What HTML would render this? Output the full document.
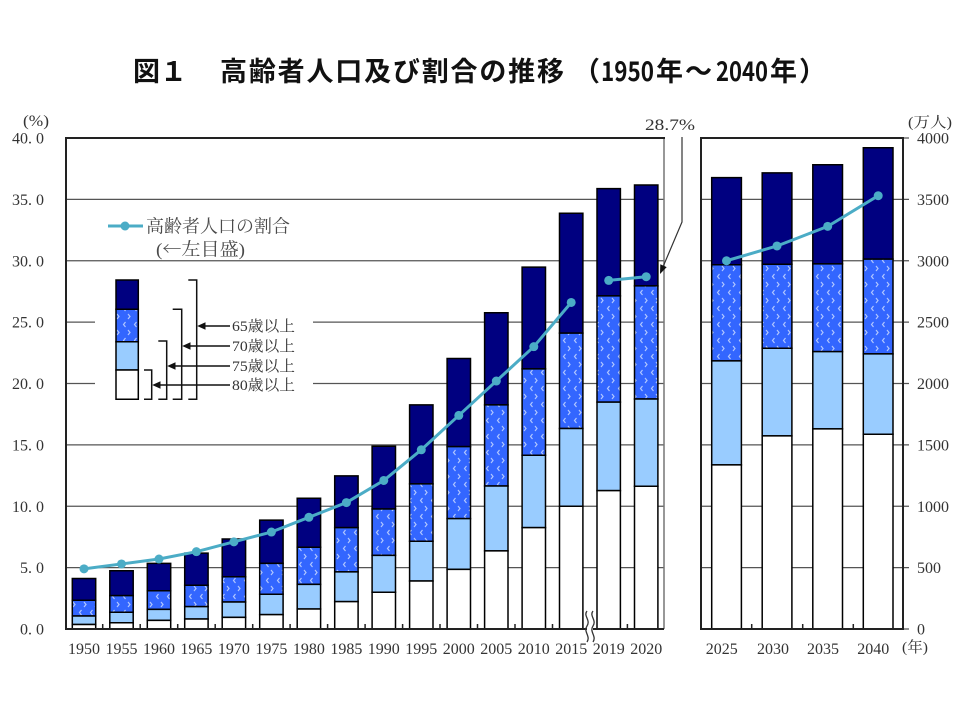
<!DOCTYPE html>
<html><head><meta charset="utf-8">
<style>
html,body{margin:0;padding:0;background:#fff;}
svg{display:block;}
.t{font-family:"Noto Sans CJK JP",sans-serif;font-weight:bold;font-size:27px;fill:#111;}
.ax{font-family:"Liberation Serif","Noto Serif CJK SC",serif;font-size:16px;fill:#333;}
.lg{font-family:"Liberation Serif","Noto Serif CJK SC",serif;font-size:18px;fill:#4a4a4a;}
.cj{font-family:"Noto Serif CJK SC",serif;}
.ag{font-family:"Liberation Serif","Noto Serif CJK SC",serif;font-size:15px;fill:#333;}
</style></head>
<body>
<svg width="960" height="720" viewBox="0 0 960 720" xmlns="http://www.w3.org/2000/svg">
<defs>
<pattern id="pat" patternUnits="userSpaceOnUse" width="11" height="16">
<rect width="11" height="16" fill="#3366ff"/>
<path d="M4.5,2 L2.5,4.5 L4.5,7 M7,10 L9,12.5 L7,15" stroke="#b0c6ff" stroke-width="1.2" fill="none"/>
</pattern>
<marker id="dot" markerUnits="userSpaceOnUse" markerWidth="10" markerHeight="10" refX="5" refY="5">
<circle cx="5" cy="5" r="4.5" fill="#4bacc6"/>
</marker>
</defs>
<rect width="960" height="720" fill="#fff"/>

<text class="t" x="133" y="81">図１</text>
<text class="t" x="220" y="81" textLength="344" lengthAdjust="spacing">高齢者人口及び割合の推移</text>
<text class="t" x="573" y="81">（</text>
<text class="t" x="601" y="81" textLength="53" lengthAdjust="spacingAndGlyphs">1950</text>
<text class="t" x="656" y="81">年</text>
<text class="t" x="685" y="81">～</text>
<text class="t" x="716" y="81" textLength="52" lengthAdjust="spacingAndGlyphs">2040</text>
<text class="t" x="770" y="81">年</text>
<text class="t" x="799" y="81">）</text>

<path stroke="#555" stroke-width="1.3" fill="none" d="M66 567.6H664M66 506.25H664M66 444.9H664M66 383.5H664M66 322.1H664M66 260.75H664M66 199.4H664M701 567.6H909M701 506.25H909M701 444.9H909M701 383.5H909M701 322.1H909M701 260.75H909M701 199.4H909M903 138H909M903 629H909"/>

<rect x="95" y="266" width="218" height="140" fill="#fff"/>

<g stroke="#000" stroke-width="1.5">
<path fill="#000080" d="M72.3 578.55H95.7V600.28H72.3Z M109.8 570.69H133.2V595.61H109.8Z M147.3 563.33H170.7V590.7H147.3Z M184.7 553.14H208.1V585.3H184.7Z M222.2 539.02H245.6V576.71H222.2Z M259.7 520.12H283.1V563.33H259.7Z M297.2 498.27H320.6V547.25H297.2Z M334.7 475.93H358.1V527.61H334.7Z M372.1 446.23H395.5V508.95H372.1Z M409.6 404.86H433V483.91H409.6Z M447.1 358.46H470.5V446.59H447.1Z M484.6 312.8H508V404.86H484.6Z M522.1 267.13H545.5V368.89H522.1Z M559.5 213.25H582.9V333.17H559.5Z M597 188.57H620.4V295.86H597Z M634.5 185.01H657.9V285.91H634.5Z M711.7 177.65H741.4V264.8H711.7Z M762.2 172.86H791.9V264.19H762.2Z M812.8 164.76H842.5V263.82H812.8Z M863.3 147.7H893V259.15H863.3Z M116 280H138.3V309.3H116Z"/>
<path fill="url(#pat)" d="M72.3 600.28H95.7V616H72.3Z M109.8 595.61H133.2V612.31H109.8Z M147.3 590.7H170.7V609.36H147.3Z M184.7 585.3H208.1V606.66H184.7Z M222.2 576.71H245.6V601.99H222.2Z M259.7 563.33H283.1V594.26H259.7Z M297.2 547.25H320.6V584.32H297.2Z M334.7 527.61H358.1V571.92H334.7Z M372.1 508.95H395.5V555.35H372.1Z M409.6 483.91H433V541.23H409.6Z M447.1 446.59H470.5V518.65H447.1Z M484.6 404.86H508V486H484.6Z M522.1 368.89H545.5V455.19H522.1Z M559.5 333.17H582.9V428.55H559.5Z M597 295.86H620.4V402.16H597Z M634.5 285.91H657.9V398.97H634.5Z M711.7 264.8H741.4V360.91H711.7Z M762.2 264.19H791.9V348.27H762.2Z M812.8 263.82H842.5V351.58H812.8Z M863.3 259.15H893V353.92H863.3Z M116 309.3H138.3V341.7H116Z"/>
<path fill="#99ccff" d="M72.3 616H95.7V624.46H72.3Z M109.8 612.31H133.2V622.74H109.8Z M147.3 609.36H170.7V620.41H147.3Z M184.7 606.66H208.1V619.06H184.7Z M222.2 601.99H245.6V617.34H222.2Z M259.7 594.26H283.1V614.64H259.7Z M297.2 584.32H320.6V608.99H297.2Z M334.7 571.92H358.1V601.63H334.7Z M372.1 555.35H395.5V592.3H372.1Z M409.6 541.23H433V581H409.6Z M447.1 518.65H470.5V569.34H447.1Z M484.6 486H508V550.93H484.6Z M522.1 455.19H545.5V527.61H522.1Z M559.5 428.55H582.9V506.25H559.5Z M597 402.16H620.4V490.66H597Z M634.5 398.97H657.9V486.24H634.5Z M711.7 360.91H741.4V464.88H711.7Z M762.2 348.27H791.9V435.91H762.2Z M812.8 351.58H842.5V428.92H812.8Z M863.3 353.92H893V434.2H863.3Z M116 341.7H138.3V370H116Z"/>
<path fill="#fff" d="M72.3 624.46H95.7V629H72.3Z M109.8 622.74H133.2V629H109.8Z M147.3 620.41H170.7V629H147.3Z M184.7 619.06H208.1V629H184.7Z M222.2 617.34H245.6V629H222.2Z M259.7 614.64H283.1V629H259.7Z M297.2 608.99H320.6V629H297.2Z M334.7 601.63H358.1V629H334.7Z M372.1 592.3H395.5V629H372.1Z M409.6 581H433V629H409.6Z M447.1 569.34H470.5V629H447.1Z M484.6 550.93H508V629H484.6Z M522.1 527.61H545.5V629H522.1Z M559.5 506.25H582.9V629H559.5Z M597 490.66H620.4V629H597Z M634.5 486.24H657.9V629H634.5Z M711.7 464.88H741.4V629H711.7Z M762.2 435.91H791.9V629H762.2Z M812.8 428.92H842.5V629H812.8Z M863.3 434.2H893V629H863.3Z M116 370H138.3V399.3H116Z"/>
</g>

<line x1="664" y1="138" x2="664" y2="629" stroke="#777" stroke-width="1.5"/>
<path stroke="#222" stroke-width="2" fill="none" d="M66 137V630M66 138H665M66 629H664M701 137V630M701 138H903M903 137V630M700 629H903"/>
<path stroke="#222" stroke-width="1.5" fill="none" d="M102.7 624V629M140.2 624V629M177.7 624V629M215.2 624V629M252.7 624V629M290.1 624V629M327.6 624V629M365.1 624V629M402.6 624V629M440 624V629M477.5 624V629M515 624V629M552.5 624V629M627.4 624V629M751.7 624V629M802.7 624V629M853.3 624V629"/>

<rect x="587" y="624" width="6" height="10" fill="#fff"/>
<path d="M587,611 C583,616 591,620 587,626 C583,632 591,636 587,642 M593,611 C589,616 597,620 593,626 C589,632 597,636 593,642" stroke="#333" stroke-width="1.3" fill="none"/>

<g stroke="#4bacc6" stroke-width="3" fill="none" stroke-linejoin="round" marker-start="url(#dot)" marker-mid="url(#dot)" marker-end="url(#dot)">
<polyline points="84,568.85 121.5,563.94 159,559.03 196.4,551.67 233.9,541.85 271.4,532.03 308.9,517.3 346.4,502.57 383.8,480.47 421.3,449.79 458.8,415.42 496.3,381.05 533.8,346.68 571.2,302.49"/>
<polyline points="608.7,280.39 646.2,276.71"/>
<polyline points="726.5,260.75 777,245.98 827.7,226.36 878.2,195.7"/>
</g>

<text class="ax" x="645" y="130" textLength="50" lengthAdjust="spacingAndGlyphs">28.7%</text>
<path d="M682,137 L682,222 L663.5,265.7" stroke="#333" stroke-width="1.2" fill="none"/>
<polygon points="660,274 666.7,267.1 660.3,264.3" fill="#111"/>

<text class="ax" text-anchor="end"><tspan x="44" y="143.5">40. 0</tspan><tspan x="44" y="204.9">35. 0</tspan><tspan x="44" y="266.25">30. 0</tspan><tspan x="44" y="327.6">25. 0</tspan><tspan x="44" y="389">20. 0</tspan><tspan x="44" y="450.4">15. 0</tspan><tspan x="44" y="511.75">10. 0</tspan><tspan x="44" y="573.1">5. 0</tspan><tspan x="44" y="634.5">0. 0</tspan></text>
<text class="ax" x="23" y="126" textLength="26" lengthAdjust="spacingAndGlyphs">(%)</text>

<text class="ax"><tspan x="917" y="143.5">4000</tspan><tspan x="917" y="204.9">3500</tspan><tspan x="917" y="266.25">3000</tspan><tspan x="917" y="327.6">2500</tspan><tspan x="917" y="389">2000</tspan><tspan x="917" y="450.4">1500</tspan><tspan x="917" y="511.75">1000</tspan><tspan x="917" y="573.1">500</tspan><tspan x="917" y="634.5">0</tspan></text>
<text class="ag" x="908" y="127" textLength="44" lengthAdjust="spacingAndGlyphs">(万人)</text>

<text class="ax" text-anchor="middle" y="654"><tspan x="84">1950</tspan><tspan x="121.5">1955</tspan><tspan x="159">1960</tspan><tspan x="196.4">1965</tspan><tspan x="233.9">1970</tspan><tspan x="271.4">1975</tspan><tspan x="308.9">1980</tspan><tspan x="346.4">1985</tspan><tspan x="383.8">1990</tspan><tspan x="421.3">1995</tspan><tspan x="458.8">2000</tspan><tspan x="496.3">2005</tspan><tspan x="533.8">2010</tspan><tspan x="571.2">2015</tspan><tspan x="608.7">2019</tspan><tspan x="646.2">2020</tspan><tspan x="721.7">2025</tspan><tspan x="773">2030</tspan><tspan x="823">2035</tspan><tspan x="873.3">2040</tspan></text>
<text class="ag" x="902" y="652" textLength="26" lengthAdjust="spacingAndGlyphs">(年)</text>

<line x1="108" y1="226" x2="143" y2="226" stroke="#4bacc6" stroke-width="3"/>
<circle cx="125" cy="226" r="4.5" fill="#4bacc6"/>
<text class="lg" x="146" y="232.5" textLength="144" lengthAdjust="spacingAndGlyphs">高齢者人口の割合</text>
<text class="lg" x="156" y="255.5" textLength="89" lengthAdjust="spacingAndGlyphs">(<tspan class="cj">←</tspan>左目盛)</text>

<path stroke="#111" stroke-width="1.5" fill="none" d="M144 370H151.7V399.3H144M158.3 341H166.7V399.3H158.3M172.7 309.3H181.7V399.3H172.7M188.3 280H196.7V399.3H188.3M158 385H230M173 366H230M188 346H230M203 326H230"/>
<path fill="#111" d="M152.2 385L160.5 381.3V388.7Z M167.2 366L175.5 362.3V369.7Z M182.2 346L190.5 342.3V349.7Z M197.2 326L205.5 322.3V329.7Z"/>
<text class="ag" x="232" y="331" textLength="63" lengthAdjust="spacingAndGlyphs">65歳以上</text>
<text class="ag" x="232" y="351" textLength="63" lengthAdjust="spacingAndGlyphs">70歳以上</text>
<text class="ag" x="232" y="371" textLength="63" lengthAdjust="spacingAndGlyphs">75歳以上</text>
<text class="ag" x="232" y="390" textLength="63" lengthAdjust="spacingAndGlyphs">80歳以上</text>
</svg>
</body></html>
